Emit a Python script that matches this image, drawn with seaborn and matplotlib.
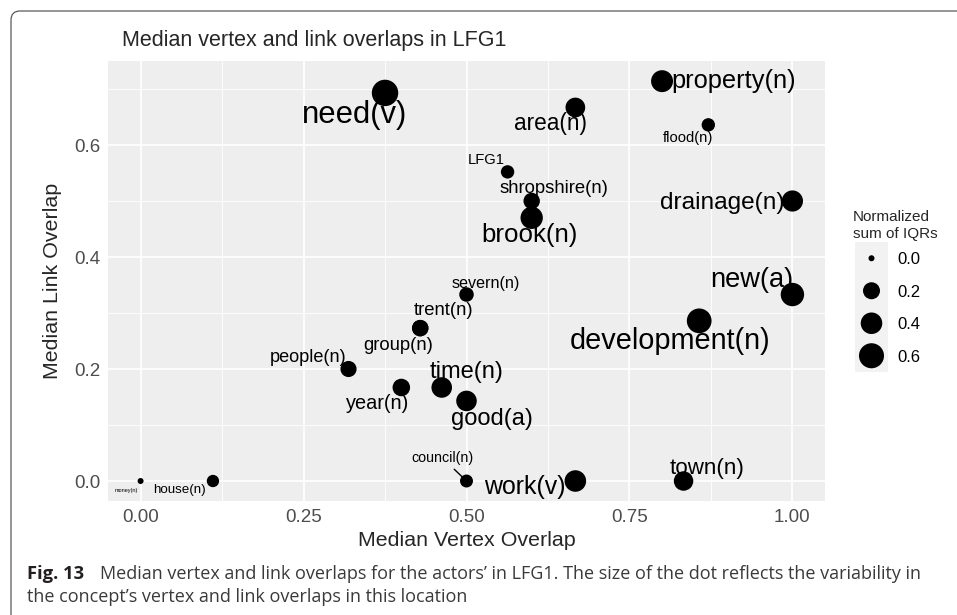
# Median vertex / link overlaps in LFG1 - bubble chart with repelled labels
import numpy as np
import pandas as pd
import matplotlib
matplotlib.use("Agg")
import matplotlib.pyplot as plt
import seaborn as sns
from matplotlib.patches import FancyBboxPatch
from matplotlib.ticker import MultipleLocator
from matplotlib.transforms import IdentityTransform

# ------------------------------------------------------------- #
# Data
concepts = ['need(v)', 'property(n)', 'area(n)', 'flood(n)', 'LFG1',
            'shropshire(n)', 'brook(n)', 'drainage(n)', 'new(a)',
            'development(n)', 'severn(n)', 'trent(n)', 'group(n)',
            'people(n)', 'year(n)', 'time(n)', 'good(a)', 'council(n)',
            'work(v)', 'town(n)', 'house(n)', 'money(n)']
vertex_overlap = [0.375, 0.800, 0.667, 0.871, 0.563,
                  0.600, 0.600, 1.000, 1.000,
                  0.857, 0.500, 0.429, 0.429,
                  0.319, 0.400, 0.462, 0.500, 0.500,
                  0.667, 0.833, 0.111, 0.000]
link_overlap = [0.693, 0.714, 0.667, 0.636, 0.552,
                0.500, 0.470, 0.500, 0.333,
                0.286, 0.333, 0.273, 0.273,
                0.200, 0.167, 0.167, 0.143, 0.000,
                0.000, 0.000, 0.000, 0.000]
iqr_sum = [0.69, 0.42, 0.31, 0.09, 0.09,
           0.18, 0.44, 0.38, 0.50,
           0.58, 0.12, 0.18, 0.18,
           0.17, 0.22, 0.35, 0.35, 0.08,
           0.40, 0.30, 0.066, 0.0]

legend_levels = [0.0, 0.2, 0.4, 0.6]
x_ticks = [0.0, 0.25, 0.5, 0.75, 1.0]
y_ticks = [0.0, 0.2, 0.4, 0.6]

# where each label sits relative to its dot, in pixels (right, down)
label_offset = {
    'need(v)': (-30, 22), 'property(n)': (72, 0), 'area(n)': (-25, 16),
    'flood(n)': (-20, 13), 'LFG1': (-21, -12), 'shropshire(n)': (22, -13),
    'brook(n)': (-2, 17), 'drainage(n)': (-70, 2), 'new(a)': (-41, -15),
    'development(n)': (-29, 20), 'severn(n)': (19, -11), 'trent(n)': (23, -18),
    'group(n)': (-22, 17), 'people(n)': (-40, -12), 'year(n)': (-24, 16),
    'time(n)': (25, -15), 'good(a)': (25, 18), 'council(n)': (-24, -23),
    'work(v)': (-51, 6), 'town(n)': (24, -13), 'house(n)': (-33, 9),
    'money(n)': (-14, 9),
}

DPI = 100
PX = 72.0 / DPI   # points per pixel


def dot_area(v):
    # ggplot-like area scale: diameter grows with sqrt(value)
    d = 6 + 24.6 * np.sqrt(v)
    return (d * PX) ** 2


def label_size(v):
    return (5.5 + 30.75 * np.sqrt(v)) * PX


# ------------------------------------------------------------- #
sns.set_style("white")
plt.rcParams['font.family'] = ['Liberation Sans', 'DejaVu Sans']

df = pd.DataFrame({'concept': concepts, 'vertex': vertex_overlap,
                   'link': link_overlap, 'iqr': iqr_sum})

fig = plt.figure(figsize=(957 / DPI, 615 / DPI), dpi=DPI)
ax = fig.add_axes([108 / 957, 1 - 501 / 615, 717 / 957, 440 / 615])
ax.set_facecolor('#EDEEED')

size_map = {v: dot_area(v) for v in set(iqr_sum)}
sns.scatterplot(data=df, x='vertex', y='link', size='iqr', sizes=size_map,
                color='black', linewidth=0, legend=False, ax=ax, zorder=3)

for _, r in df.iterrows():
    dx, dy = label_offset[r['concept']]
    arrow = None
    if r['concept'] == 'council(n)':
        arrow = dict(arrowstyle='-', color='black', lw=1.0,
                     shrinkA=1, shrinkB=4)
    ax.annotate(r['concept'], (r['vertex'], r['link']),
                xytext=(dx * PX, -dy * PX), textcoords='offset points',
                ha='center', va='center', fontsize=label_size(r['iqr']),
                color='black', zorder=4, arrowprops=arrow)

ax.set_xlim(-0.05, 1.05)
ax.set_ylim(-0.0357, 0.75)
ax.set_xticks(x_ticks)
ax.set_xticklabels(['%.2f' % t for t in x_ticks])
ax.set_yticks(y_ticks)
ax.set_yticklabels(['%.1f' % t for t in y_ticks])
ax.xaxis.set_minor_locator(MultipleLocator(0.125))
ax.yaxis.set_minor_locator(MultipleLocator(0.1))
ax.grid(which='major', color='white', lw=1.2, zorder=0)
ax.grid(which='minor', color='white', lw=0.6, zorder=0)
ax.set_axisbelow(True)
for s in ax.spines.values():
    s.set_visible(False)
ax.tick_params(axis='both', which='major', length=2.9, width=0.8,
               color='#333333', labelcolor='#4D4D4D', labelsize=13.5, pad=2.5)
ax.tick_params(axis='both', which='minor', length=0)

ax.set_xlabel('Median Vertex Overlap', fontsize=15.4, labelpad=4)
ax.set_ylabel('Median Link Overlap', fontsize=15.4, labelpad=9)

fig.text(122 / 957, 1 - 46 / 615, 'Median vertex and link overlaps in LFG1',
         fontsize=15.5, va='baseline', ha='left')

# size legend
ax_leg = fig.add_axes([855 / 957, 1 - 372 / 615, 33 / 957, 130 / 615])
ax_leg.set_facecolor('#F2F2F2')
ax_leg.scatter(np.zeros(len(legend_levels)), np.arange(len(legend_levels)),
               s=[dot_area(v) for v in legend_levels], color='black', lw=0)
ax_leg.set_xlim(-1, 1)
ax_leg.set_ylim(len(legend_levels) - 0.5, -0.5)
ax_leg.set_xticks([])
ax_leg.yaxis.tick_right()
ax_leg.set_yticks(np.arange(len(legend_levels)))
ax_leg.set_yticklabels(['%.1f' % v for v in legend_levels])
ax_leg.tick_params(axis='y', length=0, pad=7, labelsize=12, labelcolor='black')
for s in ax_leg.spines.values():
    s.set_visible(False)
fig.text(853 / 957, 1 - 238 / 615, 'Normalized\nsum of IQRs', fontsize=11,
         va='baseline', ha='left', linespacing=1.3)

# caption
cap_font = ['Open Sans', 'DejaVu Sans']
fig.text(27 / 957, 1 - 579 / 615, 'Fig. 13', fontsize=13.2, fontweight='bold',
         family=cap_font, color='#231F20', va='baseline')
fig.text(100 / 957, 1 - 579 / 615,
         'Median vertex and link overlaps for the actors’ in LFG1. '
         'The size of the dot reflects the variability in',
         fontsize=13, family=cap_font, color='#3A3A3A', va='baseline')
fig.text(27 / 957, 1 - 602 / 615,
         'the concept’s vertex and link overlaps in this location',
         fontsize=13, family=cap_font, color='#3A3A3A', va='baseline')

# frame round the figure panel
frame = FancyBboxPatch((11, -30), 1000, 615 - 11 + 30,
                       boxstyle='round,pad=0,rounding_size=9',
                       fill=False, edgecolor='#5A5A5A', lw=0.9,
                       transform=IdentityTransform())
fig.patches.append(frame)

fig.savefig('out.png', dpi=DPI)
plt.close(fig)
